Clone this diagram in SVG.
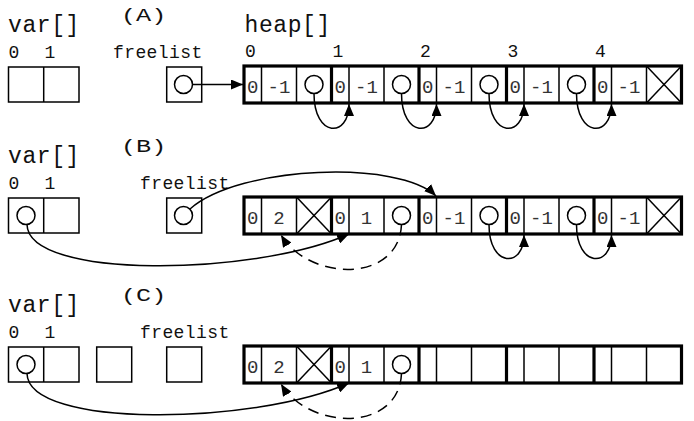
<svg xmlns="http://www.w3.org/2000/svg" width="694" height="421" viewBox="0 0 694 421">
  <style>
    .bg { fill: #ffffff; }
    .title { font-family: "Liberation Mono", "Courier New", monospace; font-size: 23px; letter-spacing: 0.6px; fill: #111; }
    .tag { font-family: "Liberation Mono", "Courier New", monospace; font-size: 18px; fill: #111; }
    .idx { font-family: "Liberation Mono", "Courier New", monospace; font-size: 18px; fill: #111; text-anchor: middle; }
    .lbl { font-family: "Liberation Mono", "Courier New", monospace; font-size: 18px; letter-spacing: 0.4px; fill: #111; }
    .val { font-family: "Liberation Mono", "Courier New", monospace; font-size: 19px; fill: #333; text-anchor: middle; }
    .box { fill: #fff; stroke: #000; stroke-width: 1.5; }
    .thin { stroke: #000; stroke-width: 1.5; fill: none; }
    .outer { fill: #fff; stroke: #000; stroke-width: 3.2; }
    .thick { stroke: #000; stroke-width: 3.2; }
    .ptr { fill: none; stroke: #000; stroke-width: 1.5; }
    .link { fill: none; stroke: #000; stroke-width: 1.5; }
    .dash { fill: none; stroke: #000; stroke-width: 1.5; stroke-dasharray: 11 7; }
  </style>
  <defs>
    <marker id="ah" markerWidth="12" markerHeight="10" refX="12" refY="5" orient="auto" markerUnits="userSpaceOnUse">
      <path d="M0,0 L12,5 L0,10 Z" fill="#000"/>
    </marker>
    <!-- one heap block: small cell, value cell, pointer cell (87.5 wide, 37 tall) -->
    <g id="blk">
      <line class="thin" x1="17.5" y1="0" x2="17.5" y2="37"/>
      <line class="thin" x1="52.5" y1="0" x2="52.5" y2="37"/>
    </g>
    <g id="nil">
      <line class="thin" x1="0" y1="0" x2="35" y2="37"/>
      <line class="thin" x1="35" y1="0" x2="0" y2="37"/>
    </g>
  </defs>
  <rect class="bg" x="0" y="0" width="694" height="421"/>

  <!-- ===== state A ===== -->
  <g id="labels-a">
    <text class="title" x="8" y="32">var[]</text>
    <text class="tag" x="121" y="21.5" transform="translate(121 0) scale(1.4 1) translate(-121 0)">(A)</text>
    <text class="idx" x="14" y="58">0</text>
    <text class="idx" x="50" y="58">1</text>
    <text class="lbl" x="113" y="58">freelist</text>
    <text class="title" x="244.5" y="32">heap[]</text>
    <text class="idx" x="250.5" y="57">0</text>
    <text class="idx" x="338" y="57">1</text>
    <text class="idx" x="425.5" y="57">2</text>
    <text class="idx" x="513" y="57">3</text>
    <text class="idx" x="600.5" y="57">4</text>
  </g>
  <g id="var-a">
    <rect class="box" x="8.5" y="67" width="70.5" height="35"/>
    <line class="thin" x1="43.7" y1="67" x2="43.7" y2="102"/>
  </g>
  <g id="freelist-a">
    <rect class="box" x="166.7" y="67" width="35" height="35"/>
    <circle class="thin" cx="183.5" cy="84.5" r="9"/>
  </g>
  <g id="heap-a">
    <rect class="outer" x="244" y="66" width="437.5" height="37"/>
    <use href="#blk" x="244" y="66"/>
    <use href="#blk" x="331.5" y="66"/>
    <use href="#blk" x="419" y="66"/>
    <use href="#blk" x="506.5" y="66"/>
    <use href="#blk" x="594" y="66"/>
    <line class="thick" x1="331.5" y1="66" x2="331.5" y2="103"/>
    <line class="thick" x1="419" y1="66" x2="419" y2="103"/>
    <line class="thick" x1="506.5" y1="66" x2="506.5" y2="103"/>
    <line class="thick" x1="594" y1="66" x2="594" y2="103"/>
    <text class="val" x="252.75" y="92.5">0</text><text class="val" x="279" y="92.5">-1</text>
    <circle class="thin" cx="314" cy="84.5" r="9"/>
    <text class="val" x="340.25" y="92.5">0</text><text class="val" x="366.5" y="92.5">-1</text>
    <circle class="thin" cx="401.5" cy="84.5" r="9"/>
    <text class="val" x="427.75" y="92.5">0</text><text class="val" x="454" y="92.5">-1</text>
    <circle class="thin" cx="489" cy="84.5" r="9"/>
    <text class="val" x="515.25" y="92.5">0</text><text class="val" x="541.5" y="92.5">-1</text>
    <circle class="thin" cx="576.5" cy="84.5" r="9"/>
    <text class="val" x="602.75" y="92.5">0</text><text class="val" x="629" y="92.5">-1</text>
    <use href="#nil" x="646.5" y="66"/>
  </g>

  <!-- ===== state B ===== -->
  <g id="labels-b">
    <text class="title" x="8" y="163">var[]</text>
    <text class="tag" x="121" y="152.5" transform="translate(121 0) scale(1.4 1) translate(-121 0)">(B)</text>
    <text class="idx" x="14" y="189">0</text>
    <text class="idx" x="50" y="189">1</text>
    <text class="lbl" x="140" y="189">freelist</text>
  </g>
  <g id="var-b">
    <rect class="box" x="8.5" y="198" width="70.5" height="35"/>
    <line class="thin" x1="43.7" y1="198" x2="43.7" y2="233"/>
    <circle class="thin" cx="26" cy="215.5" r="9"/>
  </g>
  <g id="freelist-b">
    <rect class="box" x="166.7" y="198" width="35" height="35"/>
    <circle class="thin" cx="183.5" cy="215.5" r="9"/>
  </g>
  <g id="heap-b">
    <rect class="outer" x="244" y="197" width="437.5" height="37"/>
    <use href="#blk" x="244" y="197"/>
    <use href="#blk" x="331.5" y="197"/>
    <use href="#blk" x="419" y="197"/>
    <use href="#blk" x="506.5" y="197"/>
    <use href="#blk" x="594" y="197"/>
    <line class="thick" x1="331.5" y1="197" x2="331.5" y2="234"/>
    <line class="thick" x1="419" y1="197" x2="419" y2="234"/>
    <line class="thick" x1="506.5" y1="197" x2="506.5" y2="234"/>
    <line class="thick" x1="594" y1="197" x2="594" y2="234"/>
    <text class="val" x="252.75" y="223.5">0</text><text class="val" x="279" y="223.5">2</text>
    <use href="#nil" x="296.5" y="197"/>
    <text class="val" x="340.25" y="223.5">0</text><text class="val" x="366.5" y="223.5">1</text>
    <circle class="thin" cx="401.5" cy="215.5" r="9"/>
    <text class="val" x="427.75" y="223.5">0</text><text class="val" x="454" y="223.5">-1</text>
    <circle class="thin" cx="489" cy="215.5" r="9"/>
    <text class="val" x="515.25" y="223.5">0</text><text class="val" x="541.5" y="223.5">-1</text>
    <circle class="thin" cx="576.5" cy="215.5" r="9"/>
    <text class="val" x="602.75" y="223.5">0</text><text class="val" x="629" y="223.5">-1</text>
    <use href="#nil" x="646.5" y="197"/>
  </g>

  <!-- ===== state C ===== -->
  <g id="labels-c">
    <text class="title" x="8" y="312">var[]</text>
    <text class="tag" x="121" y="301.5" transform="translate(121 0) scale(1.4 1) translate(-121 0)">(C)</text>
    <text class="idx" x="14" y="338">0</text>
    <text class="idx" x="50" y="338">1</text>
    <text class="lbl" x="140" y="338">freelist</text>
  </g>
  <g id="var-c">
    <rect class="box" x="8.5" y="347" width="70.5" height="35"/>
    <line class="thin" x1="43.7" y1="347" x2="43.7" y2="382"/>
    <circle class="thin" cx="26" cy="364.5" r="9"/>
  </g>
  <g id="spare-c">
    <rect class="box" x="96.7" y="347" width="35" height="35"/>
  </g>
  <g id="freelist-c">
    <rect class="box" x="166.7" y="347" width="35" height="35"/>
  </g>
  <g id="heap-c">
    <rect class="outer" x="244" y="346" width="437.5" height="37"/>
    <use href="#blk" x="244" y="346"/>
    <use href="#blk" x="331.5" y="346"/>
    <use href="#blk" x="419" y="346"/>
    <use href="#blk" x="506.5" y="346"/>
    <use href="#blk" x="594" y="346"/>
    <line class="thick" x1="331.5" y1="346" x2="331.5" y2="383"/>
    <line class="thick" x1="419" y1="346" x2="419" y2="383"/>
    <line class="thick" x1="506.5" y1="346" x2="506.5" y2="383"/>
    <line class="thick" x1="594" y1="346" x2="594" y2="383"/>
    <text class="val" x="252.75" y="372.5">0</text><text class="val" x="279" y="372.5">2</text>
    <use href="#nil" x="296.5" y="346"/>
    <text class="val" x="340.25" y="372.5">0</text><text class="val" x="366.5" y="372.5">1</text>
    <circle class="thin" cx="401.5" cy="364.5" r="9"/>
  </g>

  <!-- ===== connectors ===== -->
  <g id="connectors">
    <!-- A -->
    <path class="ptr" d="M192.5,84.5 L243,84.5" marker-end="url(#ah)"/>
    <path class="link" d="M314,93.5 C314,138 349,138 349,104" marker-end="url(#ah)"/>
    <path class="link" d="M401.5,93.5 C401.5,138 436.5,138 436.5,104" marker-end="url(#ah)"/>
    <path class="link" d="M489,93.5 C489,138 524,138 524,104" marker-end="url(#ah)"/>
    <path class="link" d="M576.5,93.5 C576.5,138 611.5,138 611.5,104" marker-end="url(#ah)"/>
    <!-- B -->
    <path class="ptr" d="M190,209 C240,165 400,160 436,196" marker-end="url(#ah)"/>
    <path class="ptr" d="M27,224.5 C28,280 255,276 349,234" marker-end="url(#ah)"/>
    <path class="dash" d="M401.5,224.5 C399,283 310,282 281,235" marker-end="url(#ah)"/>
    <path class="link" d="M489,224.5 C489,268 524,268 524,235" marker-end="url(#ah)"/>
    <path class="link" d="M576.5,224.5 C576.5,268 611.5,268 611.5,235" marker-end="url(#ah)"/>
    <!-- C -->
    <path class="ptr" d="M27,373.5 C28,429 255,425 349,383" marker-end="url(#ah)"/>
    <path class="dash" d="M401.5,373.5 C399,432 310,431 281,384" marker-end="url(#ah)"/>
  </g>
</svg>
